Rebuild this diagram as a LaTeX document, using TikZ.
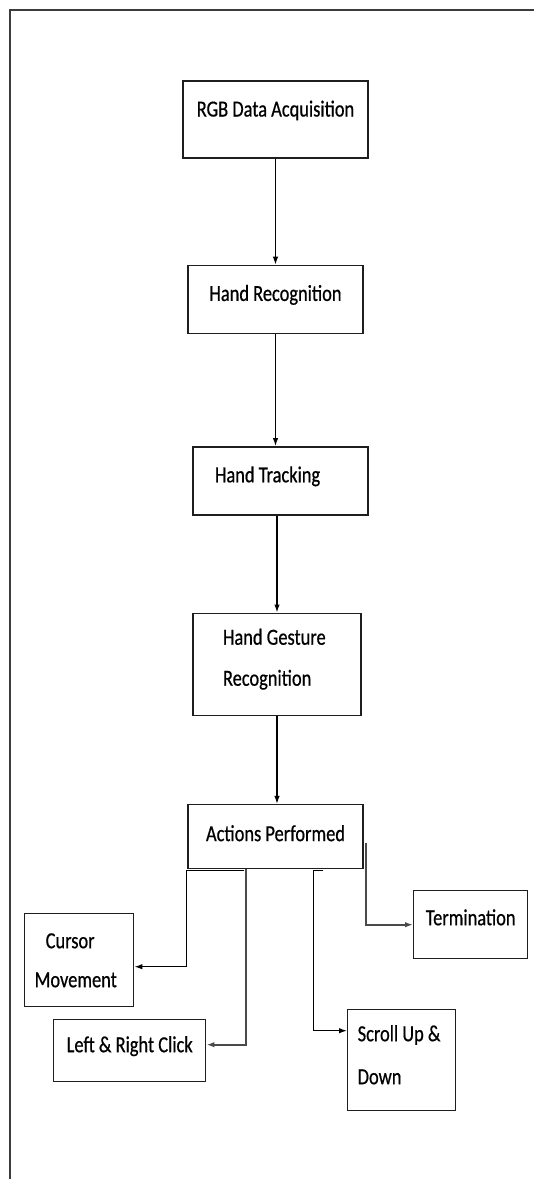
\documentclass[tikz,border=0pt]{standalone}
\usepackage{fontspec}
\setmainfont[FakeStretch=0.8, FakeBold=0.6]{Carlito}
\usetikzlibrary{positioning, arrows.meta}
\definecolor{boxline}{HTML}{1E1E1E}
\definecolor{frameline}{HTML}{3C3C3C}
\definecolor{greylink}{HTML}{4A4A4A}

\begin{document}
\begin{tikzpicture}[
  every node/.style={font=\fontsize{23}{41}\selectfont, text=black,
    execute at begin node={\spaceskip=0pt\xspaceskip=0pt}},
  procbox/.style={
    draw=boxline,
    line width=1.4pt,
    inner sep=0pt,
    align=center,
  },
  link/.style={
    -{Latex[length=8pt,width=5.5pt]},
    line width=1.3pt,
    draw=black,
  },
  softlink/.style={
    link,
    line width=1.8pt,
    draw=greylink,
  },
]
  \useasboundingbox (0,0) rectangle (534pt,-1179pt);
  % page frame
  \draw[draw=frameline, line width=1.5pt] (10pt,-1179pt) -- (10pt,-10pt) -- (534pt,-10pt);

  % main column
  \node[procbox, minimum width=185pt, text height=35.5pt, text depth=41.5pt] (rgb) at (275.5pt,-119.5pt) {RGB Data Acquisition};
  \node[procbox, below=106pt of rgb, minimum width=175pt, text height=35.5pt, text depth=32.5pt] (handrec) {Hand Recognition};
  \node[procbox, below=112pt of handrec, xshift=5pt, minimum width=175pt, text width=131pt, align=left, text height=35.5pt, text depth=32.5pt] (track) {Hand Tracking};
  \node[procbox, below=97pt of track, xshift=-3.5pt, minimum width=168pt, text width=108pt, align=left, text height=31.5pt, text depth=70.5pt] (gest) {Hand Gesture\\Recognition};
  \node[procbox, below=88pt of gest, xshift=-1.5pt, minimum width=175pt, text height=36.5pt, text depth=27.5pt] (act) {Actions Performed};

  % actions
  \node[procbox, anchor=north west, minimum width=109pt, text width=89pt, align=left, text height=34.5pt, text depth=58.5pt, font=\fontsize{23}{39}\selectfont] (cursor) at (24pt,-913pt) {\hspace*{11pt}Cursor\\Movement};
  \node[procbox, anchor=north west, minimum width=152pt, text height=32.5pt, text depth=29.5pt] (click) at (53pt,-1019pt) {Left \& Right Click};
  \node[procbox, anchor=north west, minimum width=114pt, text height=34.5pt, text depth=33.5pt] (term) at (413pt,-890pt) {Termination};
  \node[procbox, anchor=north west, minimum width=108pt, text width=88pt, align=left, text height=31.5pt, text depth=69.5pt, font=\fontsize{23}{43}\selectfont] (scroll) at (347pt,-1009pt) {Scroll Up \&\\Down};

  \draw[link] (rgb) -- (handrec);
  \draw[link] (handrec.south) -- (handrec.south |- track.north);
  \draw[link] (gest.north |- track.south) -- (gest.north);
  \draw[link] (gest.south) -- (gest.south |- act.north);

  \draw[link] ([xshift=57pt,yshift=-1.2pt]act.south west) -- ([xshift=-1pt,yshift=-1.2pt]act.south west) |- ([yshift=-6.5pt]cursor.east);
  \draw[softlink] ([xshift=59pt]act.south west) |- ([yshift=6pt]click.east);
  \draw[link] ([xshift=136pt,yshift=-1.2pt]act.south west) -- ([xshift=126pt,yshift=-1.2pt]act.south west) |- ([yshift=29.5pt]scroll.west);
  \draw[softlink] ([xshift=2pt,yshift=-6pt]act.east) |- (term.west);
\end{tikzpicture}
\end{document}
